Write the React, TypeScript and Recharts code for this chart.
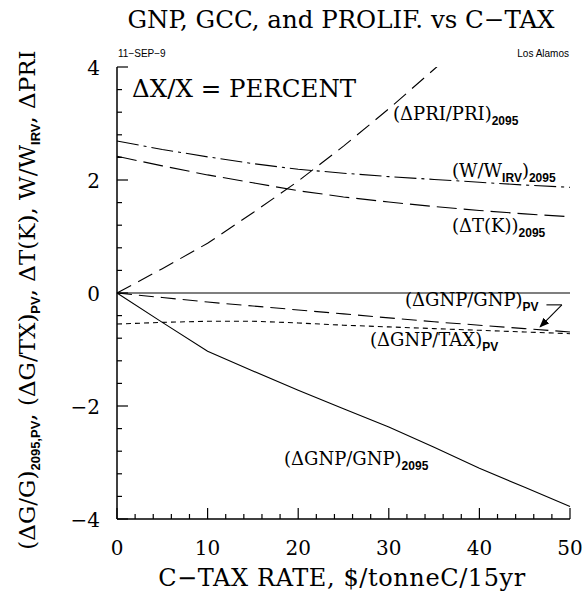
import React from 'react';
import { LineChart, Line, XAxis, YAxis, ReferenceLine } from 'recharts';

// C-tax rate, $/tonneC/15yr
const taxRate = [0, 5, 10, 15, 20, 25, 30, 35, 40, 45, 50];
// percent changes
const priPct = [0, 0.43, 0.88, 1.42, 1.98, 2.6, 3.26, 3.96, 4.66, null, null];
const wIrvPct = [2.69, 2.54, 2.41, 2.29, 2.19, 2.12, 2.06, 2.01, 1.96, 1.91, 1.87];
const dTempPct = [2.42, 2.25, 2.09, 1.95, 1.81, 1.7, 1.61, 1.53, 1.46, 1.4, 1.35];
const gnpPvPct = [0, -0.08, -0.16, -0.23, -0.3, -0.37, -0.44, -0.51, -0.57, -0.63, -0.69];
const taxPvPct = [-0.55, -0.52, -0.5, -0.5, -0.53, -0.57, -0.6, -0.63, -0.66, -0.69, -0.72];
const gnp2095Pct = [0, -0.52, -1.03, -1.38, -1.72, -2.05, -2.37, -2.73, -3.1, -3.44, -3.78];

const xTicks = [0, 2, 4, 6, 8, 10, 12, 14, 16, 18, 20, 22, 24, 26, 28, 30, 32, 34, 36, 38, 40, 42, 44, 46, 48, 50];
const yTicks = [-4, -3.6, -3.2, -2.8, -2.4, -2, -1.6, -1.2, -0.8, -0.4, 0, 0.4, 0.8, 1.2, 1.6, 2, 2.4, 2.8, 3.2, 3.6, 4];

const data = taxRate.map((x, i) => ({
  x,
  pri: priPct[i],
  w: wIrvPct[i],
  dt: dTempPct[i],
  gnpPv: gnpPvPct[i],
  taxPv: taxPvPct[i],
  gnp2095: gnp2095Pct[i],
}));

const serif = '"DejaVu Serif", serif';
const sans = '"Liberation Sans", Arial, sans-serif';
const MAJOR = 11;
const MINOR = 5;

const isMajorX = (v: number) => v % 10 === 0;
const isMajorY = (v: number) => Math.abs(Math.round(v * 10) % 20) === 0;

const BottomTick = (props: any) => {
  const { x, y, payload } = props;
  const v = payload.value;
  const len = isMajorX(v) ? MAJOR : MINOR;
  return (
    <g>
      <line x1={x} y1={y} x2={x} y2={y - len} stroke="#000" strokeWidth={1.2} />
      {isMajorX(v) && (
        <text x={x} y={y + 36} textAnchor="middle" fontFamily={serif} fontSize={20} fill="#000">
          {v}
        </text>
      )}
    </g>
  );
};

const TopTick = (props: any) => {
  const { x, y, payload } = props;
  const len = isMajorX(payload.value) ? MAJOR : MINOR;
  return <line x1={x} y1={y} x2={x} y2={y + len} stroke="#000" strokeWidth={1.2} />;
};

const LeftTick = (props: any) => {
  const { x, y, payload } = props;
  const v = payload.value;
  const major = isMajorY(v);
  return (
    <g>
      <line x1={x} y1={y} x2={x + (major ? MAJOR : MINOR)} y2={y} stroke="#000" strokeWidth={1.2} />
      {major && (
        <text x={x - 17} y={y + 8} textAnchor="end" fontFamily={serif} fontSize={20} fill="#000">
          {v < 0 ? `\u2212${Math.abs(Math.round(v))}` : Math.round(v)}
        </text>
      )}
    </g>
  );
};

const RightTick = (props: any) => {
  const { x, y, payload } = props;
  const len = isMajorY(payload.value) ? MAJOR : MINOR;
  return <line x1={x} y1={y} x2={x - len} y2={y} stroke="#000" strokeWidth={1.2} />;
};

const ArrowShape = (props: any) => {
  const { x1, y1, x2, y2 } = props;
  return (
    <g>
      <defs>
        <marker id="ahead" viewBox="0 0 10 10" refX="9" refY="5" markerWidth="9" markerHeight="9" orient="auto">
          <path d="M0,1 L10,5 L0,9 z" fill="#000" />
        </marker>
      </defs>
      <line x1={x1} y1={y1} x2={x2} y2={y2} stroke="#000" strokeWidth={1.1} markerEnd="url(#ahead)" />
    </g>
  );
};

const Sub = ({ children, dy = 5, size = 12 }: { children: React.ReactNode; dy?: number; size?: number }) => (
  <tspan fontFamily={sans} fontWeight="bold" fontSize={size} dy={dy}>
    {children}
  </tspan>
);

export default function App() {
  return (
    <div style={{ position: 'absolute', left: 0, top: 0, width: 584, height: 599, background: '#fff' }}>
      <LineChart
        width={584}
        height={599}
        data={data}
        margin={{ top: 67, right: 14, bottom: 50, left: 77 }}
      >
        <XAxis
          dataKey="x"
          type="number"
          domain={[0, 50]}
          ticks={xTicks}
          interval={0}
          height={30}
          tickSize={0}
          tickMargin={0}
          tick={<BottomTick />}
          axisLine={{ stroke: '#000', strokeWidth: 1.5 }}
          tickLine={false}
        />
        <XAxis
          xAxisId="top"
          orientation="top"
          dataKey="x"
          type="number"
          domain={[0, 50]}
          ticks={xTicks}
          interval={0}
          height={0}
          tickSize={0}
          tickMargin={0}
          tick={<TopTick />}
          axisLine={{ stroke: '#000', strokeWidth: 1.5 }}
          tickLine={false}
        />
        <YAxis
          type="number"
          domain={[-4, 4]}
          ticks={yTicks}
          interval={0}
          allowDataOverflow
          width={40}
          tickSize={0}
          tickMargin={0}
          tick={<LeftTick />}
          axisLine={{ stroke: '#000', strokeWidth: 1.5 }}
          tickLine={false}
        />
        <YAxis
          yAxisId="right"
          orientation="right"
          type="number"
          domain={[-4, 4]}
          ticks={yTicks}
          interval={0}
          width={0}
          tickSize={0}
          tickMargin={0}
          tick={<RightTick />}
          axisLine={{ stroke: '#000', strokeWidth: 1.5 }}
          tickLine={false}
        />
        <ReferenceLine y={0} stroke="#000" strokeWidth={1.2} />
        <Line dataKey="pri" stroke="#000" strokeWidth={1.1} strokeDasharray="16 8" dot={false} isAnimationActive={false} connectNulls={false} />
        <Line dataKey="w" stroke="#000" strokeWidth={1.1} strokeDasharray="22 5 3 5" dot={false} isAnimationActive={false} />
        <Line dataKey="dt" stroke="#000" strokeWidth={1.1} strokeDasharray="20 7" dot={false} isAnimationActive={false} />
        <Line dataKey="gnpPv" stroke="#000" strokeWidth={1.1} strokeDasharray="15 7" dot={false} isAnimationActive={false} />
        <Line dataKey="taxPv" stroke="#000" strokeWidth={1.1} strokeDasharray="5 4" dot={false} isAnimationActive={false} />
        <Line dataKey="gnp2095" stroke="#000" strokeWidth={1.1} dot={false} isAnimationActive={false} />
        <ReferenceLine segment={[{ x: 47.4, y: -0.21 }, { x: 49.1, y: -0.21 }]} stroke="#000" strokeWidth={1.1} ifOverflow="visible" />
        <ReferenceLine segment={[{ x: 49.1, y: -0.21 }, { x: 46.7, y: -0.6 }]} shape={<ArrowShape />} ifOverflow="visible" />
      </LineChart>
      <svg width={584} height={599} style={{ position: 'absolute', left: 0, top: 0, pointerEvents: 'none' }}>
        <text x={341} y={28} textAnchor="middle" fontFamily={serif} fontSize={24.5} fill="#000">
          GNP, GCC, and PROLIF. vs C{'\u2212'}TAX
        </text>
        <text x={118} y={57} fontFamily={sans} fontSize={10} fill="#000">11{'\u2212'}SEP{'\u2212'}9</text>
        <text x={569} y={57} textAnchor="end" fontFamily={sans} fontSize={10} fill="#000">Los Alamos</text>
        <text x={132} y={97} fontFamily={serif} fontSize={24.5} fill="#000">
          {'\u0394'}X/X = PERCENT
        </text>
        <text x={342} y={586} textAnchor="middle" fontFamily={serif} fontSize={24} letterSpacing={0.6} fill="#000">
          C{'\u2212'}TAX RATE, $/tonneC/15yr
        </text>
        <text
          x={0}
          y={0}
          transform="translate(35,300) rotate(-90)"
          textAnchor="middle"
          fontFamily={serif}
          fontSize={23}
          fill="#000"
        >
          ({'\u0394'}G/G)<Sub size={13}>2095,PV</Sub>
          <tspan dy={-5}>, ({'\u0394'}G/TX)</tspan>
          <Sub size={13}>PV</Sub>
          <tspan dy={-5}>, {'\u0394'}T(K), W/W</tspan>
          <Sub size={13}>IRV</Sub>
          <tspan dy={-5}>, {'\u0394'}PRI</tspan>
        </text>
        <g fontFamily={serif} fontSize={18} fill="#000">
          <text x={393} y={120}>
            ({'\u0394'}PRI/PRI)<Sub>2095</Sub>
          </text>
          <text x={452} y={177}>
            (W/W<Sub>IRV</Sub>
            <tspan dy={-5}>)</tspan>
            <Sub>2095</Sub>
          </text>
          <text x={452} y={232}>
            ({'\u0394'}T(K))<Sub>2095</Sub>
          </text>
          <text x={405} y={306}>
            ({'\u0394'}GNP/GNP)<Sub>PV</Sub>
          </text>
          <text x={370} y={346}>
            ({'\u0394'}GNP/TAX)<Sub>PV</Sub>
          </text>
          <text x={284} y={465}>
            ({'\u0394'}GNP/GNP)<Sub>2095</Sub>
          </text>
        </g>
      </svg>
    </div>
  );
}
